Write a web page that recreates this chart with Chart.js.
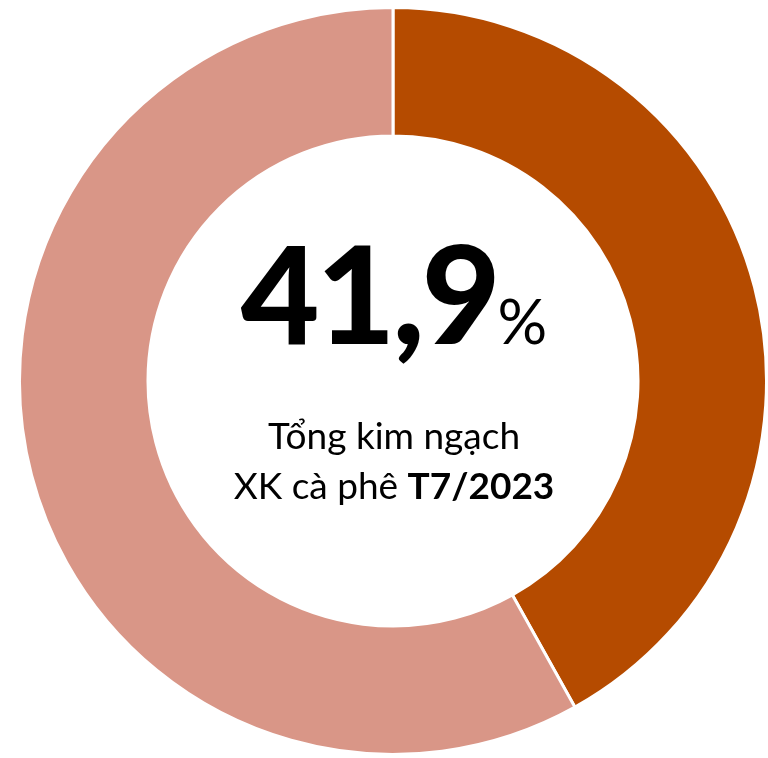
<!DOCTYPE html>
<html>
<head>
<meta charset="utf-8">
<script src="https://cdn.jsdelivr.net/npm/chart.js@4"></script>
<style>
  html, body { margin: 0; padding: 0; background: #fff; }
  #wrap { position: relative; width: 768px; height: 758px; }
  #center { position: absolute; left: 394px; top: 0; width: 0; font-family: Lato, "Open Sans", sans-serif; color: #000; }
  #big { position: absolute; top: 224px; left: -170px; width: 340px; text-align: center; white-space: nowrap; line-height: 1; }
  #big .num { font-weight: 900; font-size: 136px; letter-spacing: -3px; }
  #big .pct { font-weight: 400; font-size: 62px; }
  #sub { position: absolute; top: 410px; left: -200px; width: 400px; text-align: center; font-size: 37px; line-height: 50px; }
</style>
</head>
<body>
<div id="wrap">
  <canvas id="donut" width="768" height="758"></canvas>
  <div id="center">
    <div id="big"><span class="num">41,9</span><span class="pct">%</span></div>
    <div id="sub">Tổng kim ngạch<br>XK cà phê <b>T7/2023</b></div>
  </div>
</div>
<script>
// dữ liệu
const labels = ['Tháng 7/2023', 'Còn lại'];
const values = [41.9, 58.1];
const colors = ['#B54B00', '#D99687'];

new Chart(document.getElementById("donut"), {
  type: 'doughnut',
  data: {
    labels: labels,
    datasets: [{
      data: values,
      backgroundColor: colors,
      borderColor: '#ffffff',
      borderWidth: 3
    }]
  },
  options: {
    responsive: false,
    animation: false,
    cutout: '65.6%',
    layout: { padding: { left: 18, right: -2, top: 5, bottom: 1 } },
    plugins: {
      legend: { display: false },
      tooltip: { enabled: false }
    }
  }
});
</script>
</body>
</html>
